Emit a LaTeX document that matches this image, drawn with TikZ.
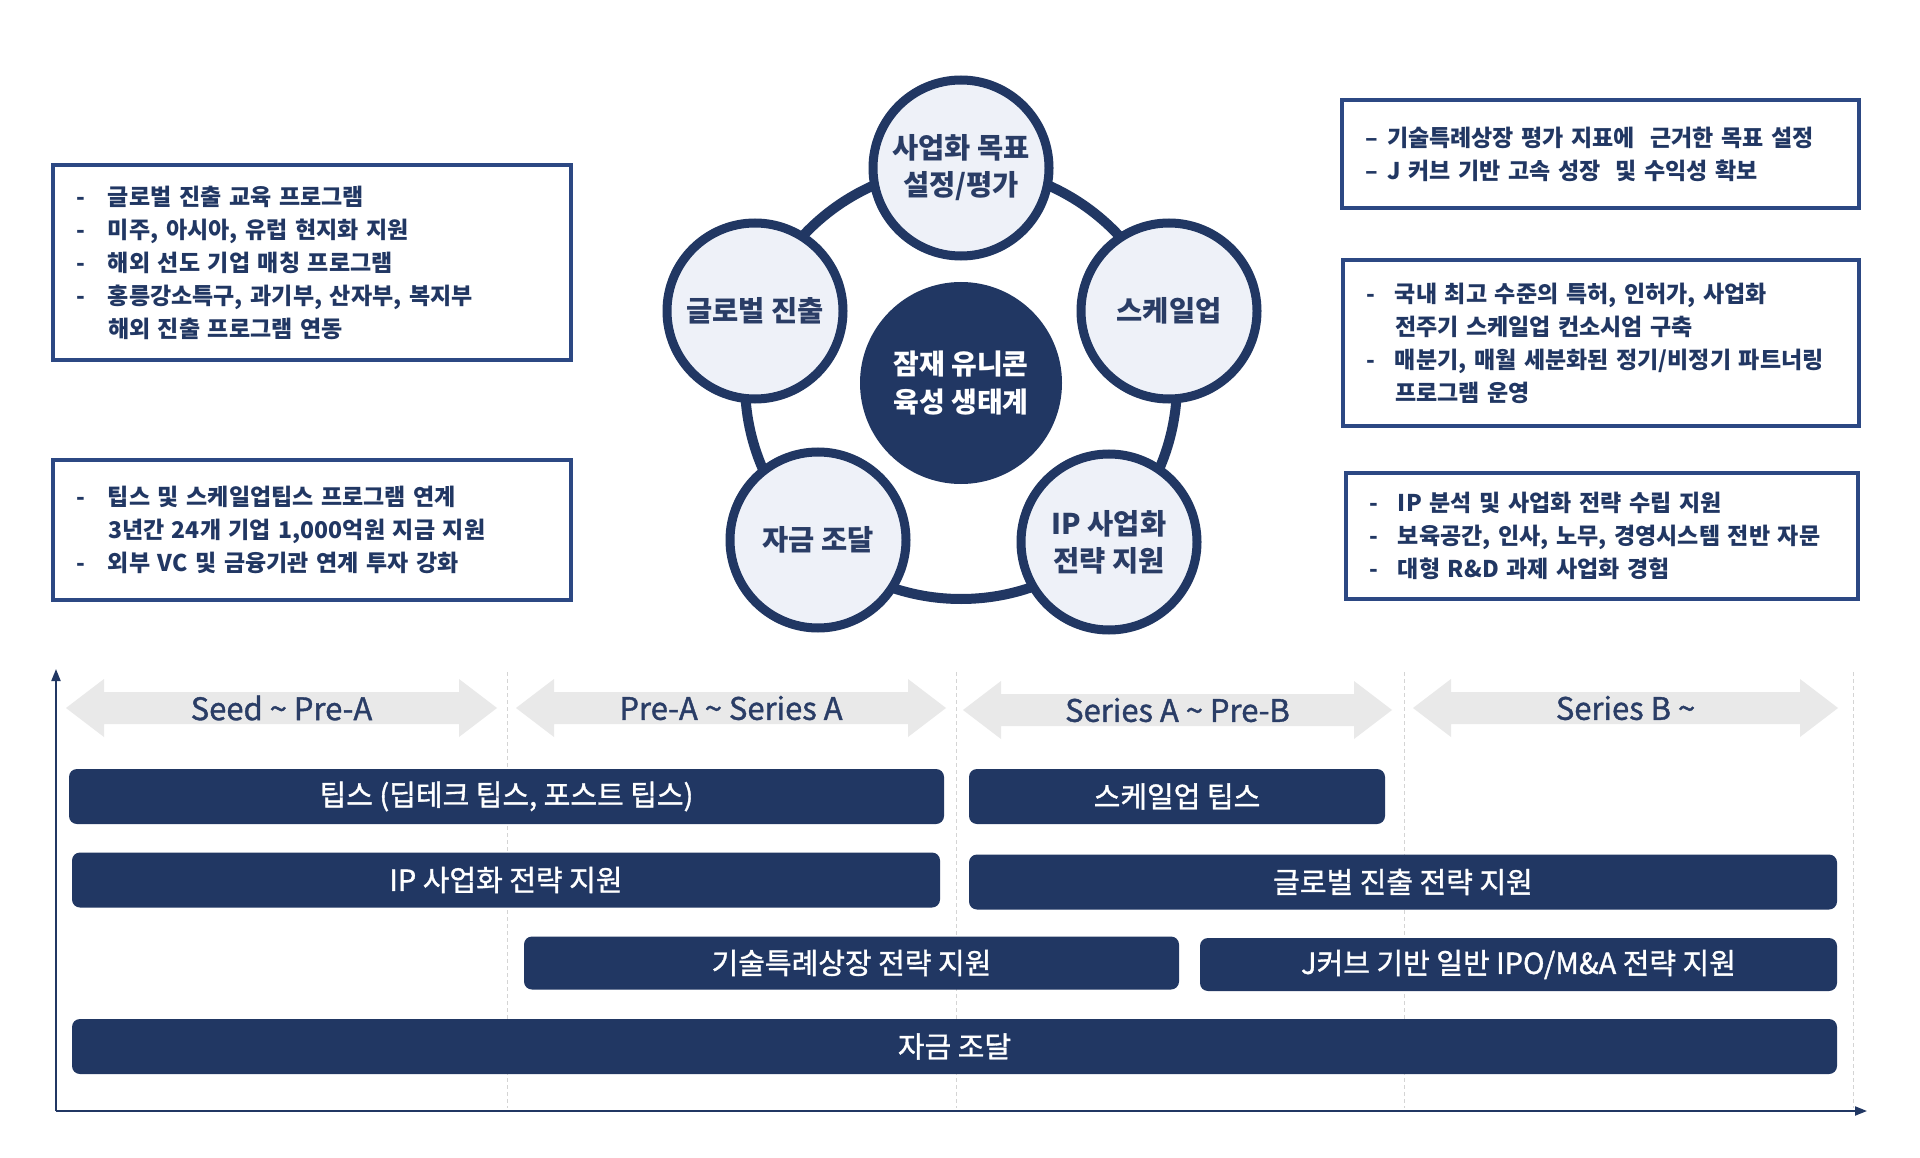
\documentclass[tikz,border=0pt]{standalone}
\usepackage{fontspec}
\setmainfont{Noto Sans CJK KR}
\newfontfamily\medfont{Noto Sans CJK KR}[FakeBold=1.2]
\usetikzlibrary{arrows.meta,backgrounds}
\definecolor{navy}{HTML}{213763}
\definecolor{boxblue}{HTML}{2C4883}
\definecolor{circfill}{HTML}{EEF1F8}
\definecolor{arrgray}{HTML}{E9E9E9}
\definecolor{gridgray}{HTML}{D4D4D4}
\definecolor{dotgray}{HTML}{8893A8}
\definecolor{labnavy}{HTML}{2A3D66}
\newcommand\fsz[2]{\fontsize{#1}{#2}\selectfont}
\newcommand\itm[2]{\makebox[#1][l]{-}#2}
\newcommand\phasearrow[5]{%
  \fill[phase] (#1,#3) -- (#1+38,#3-29) -- (#1+38,#3-16) -- (#2-38,#3-16) -- (#2-38,#3-29) -- (#2,#3)
     -- (#2-38,#3+29) -- (#2-38,#3+16) -- (#1+38,#3+16) -- (#1+38,#3+29) -- cycle;
  \node[phaselabel] (#4) at ({(#1+#2)/2},#3) {#5};}
\begin{document}
\begin{tikzpicture}[x=1pt,y=-1pt,
  stagecirc/.style={circle, draw=navy, line width=9pt, fill=circfill, minimum size=176pt, inner sep=0pt, align=center, font=\bfseries\fsz{28.5}{37}, text=labnavy},
  corecirc/.style={circle, fill=navy, minimum size=202pt, inner sep=0pt, align=center, text=white, font=\bfseries\fsz{28}{38}},
  infobox/.style={draw=boxblue, line width=3.5pt, fill=white, inner sep=0pt, align=left, font=\bfseries\fsz{23}{33}, text=navy},
  link/.style={dotgray, line width=1.4pt, dotted},
  bar/.style={fill=navy, rounded corners=8pt, inner sep=0pt, text=white, font=\medfont\fsz{29}{33}},
  phase/.style={fill=arrgray},
  phaselabel/.style={text=labnavy, font=\medfont\fsz{31}{33}},
  gridline/.style={gridgray, line width=1pt, dash pattern=on 4pt off 3pt},
  axis/.style={navy, line width=2pt, -{Triangle[length=12pt,width=9pt]}}
]
\useasboundingbox (0,0) rectangle (1920,1158);
\fill[white] (0,0) rectangle (1920,1158);

% ---------- ecosystem ----------
\coordinate (ctr) at (961,383);
\draw[navy, line width=10pt] (ctr) circle[radius=216];
\node[corecirc] (core) at (ctr) {잠재 유니콘\\육성 생태계};
\node[stagecirc] (goal) at (961,168) {사업화 목표\\설정/평가};
\node[stagecirc] (glob) at (755,311) {글로벌 진출};
\node[stagecirc] (scale) at (1169,311) {스케일업};
\node[stagecirc] (fund) at (818,540) {자금 조달};
\node[stagecirc] (ip) at (1109,542) {IP 사업화\\전략 지원};

% ---------- info boxes ----------
\node[infobox, minimum width=518pt, minimum height=195pt, text width=472pt] (lb1) at (312,262.5)
  {\itm{32pt}{글로벌 진출 교육 프로그램}\\
   \itm{32pt}{미주, 아시아, 유럽 현지화 지원}\\
   \itm{32pt}{해외 선도 기업 매칭 프로그램}\\
   \itm{32pt}{홍릉강소특구, 과기부, 산자부, 복지부}\\
   \hspace*{32pt}해외 진출 프로그램 연동};
\node[infobox, minimum width=518pt, minimum height=140pt, text width=472pt] (lb2) at (312,530)
  {\itm{32pt}{팁스 및 스케일업팁스 프로그램 연계}\\
   \hspace*{32pt}3년간 24개 기업 1,000억원 지금 지원\\
   \itm{32pt}{외부 VC 및 금융기관 연계 투자 강화}};
\node[infobox, minimum width=517pt, minimum height=108pt, text width=471pt] (rb1) at (1600.5,154)
  {\makebox[22pt][l]{–}기술특례상장 평가 지표에\ \ 근거한 목표 설정\\
   \makebox[22pt][l]{–}J 커브 기반 고속 성장\ \ 및 수익성 확보};
\node[infobox, minimum width=516pt, minimum height=166pt, text width=470pt] (rb2) at (1601,343)
  {\itm{29pt}{국내 최고 수준의 특허, 인허가, 사업화}\\
   \hspace*{29pt}전주기 스케일업 컨소시엄 구축\\
   \itm{29pt}{매분기, 매월 세분화된 정기/비정기 파트너링}\\
   \hspace*{29pt}프로그램 운영};
\node[infobox, minimum width=512pt, minimum height=126pt, text width=466pt] (rb3) at (1602,536)
  {\itm{29pt}{IP 분석 및 사업화 전략 수립 지원}\\
   \itm{29pt}{보육공간, 인사, 노무, 경영시스템 전반 자문}\\
   \itm{29pt}{대형 R\&D 과제 사업화 경험}};

\begin{scope}[on background layer]
  \draw[link] (goal.17) -- (goal.17 -| rb1.west);
  \draw[link] (glob.174) -- (glob.174 -| lb1.east);
  \draw[link] (scale.-7) -- (scale.-7 -| rb2.west);
  \draw[link] (fund.178) -- (fund.178 -| lb2.east);
  \draw[link] (ip.0) -- (ip.0 -| rb3.west);
\end{scope}

% ---------- timeline ----------
\foreach \gx in {507,956,1404,1853} \draw[gridline] (\gx,672) -- (\gx,1108);

\coordinate (orig) at (56,1111);
\coordinate (ytop) at (56,669);
\coordinate (xend) at (1867,1111);
\draw[axis] (orig) -- (ytop);
\draw[axis] (orig) -- (xend);

\phasearrow{66}{497}{708}{ph1}{Seed \textasciitilde{} Pre-A}
\phasearrow{516}{946}{708}{ph2}{Pre-A \textasciitilde{} Series A}
\phasearrow{963}{1392}{710}{ph3}{Series A \textasciitilde{} Pre-B}
\phasearrow{1413}{1838}{708}{ph4}{Series B \textasciitilde}

\node[bar, minimum width=875pt, minimum height=55pt] (tips) at (506.5,796.5) {팁스 (딥테크 팁스, 포스트 팁스)};
\node[bar, minimum width=416pt, minimum height=55pt] (sutips) at (1177,796.5) {스케일업 팁스};
\node[bar, minimum width=868pt, minimum height=55pt] (ipbar) at (506,880) {IP 사업화 전략 지원};
\node[bar, minimum width=868pt, minimum height=55pt] (globbar) at (1403,882) {글로벌 진출 전략 지원};
\node[bar, minimum width=655pt, minimum height=53pt] (listbar) at (851.5,963) {기술특례상장 전략 지원};
\node[bar, minimum width=637pt, minimum height=53pt] (jbar) at (1518.5,964.5) {J커브 기반 일반 IPO/M\&A 전략 지원};
\node[bar, minimum width=1765pt, minimum height=55pt] (fundbar) at (954.5,1046.5) {자금 조달};
\end{tikzpicture}
\end{document}
